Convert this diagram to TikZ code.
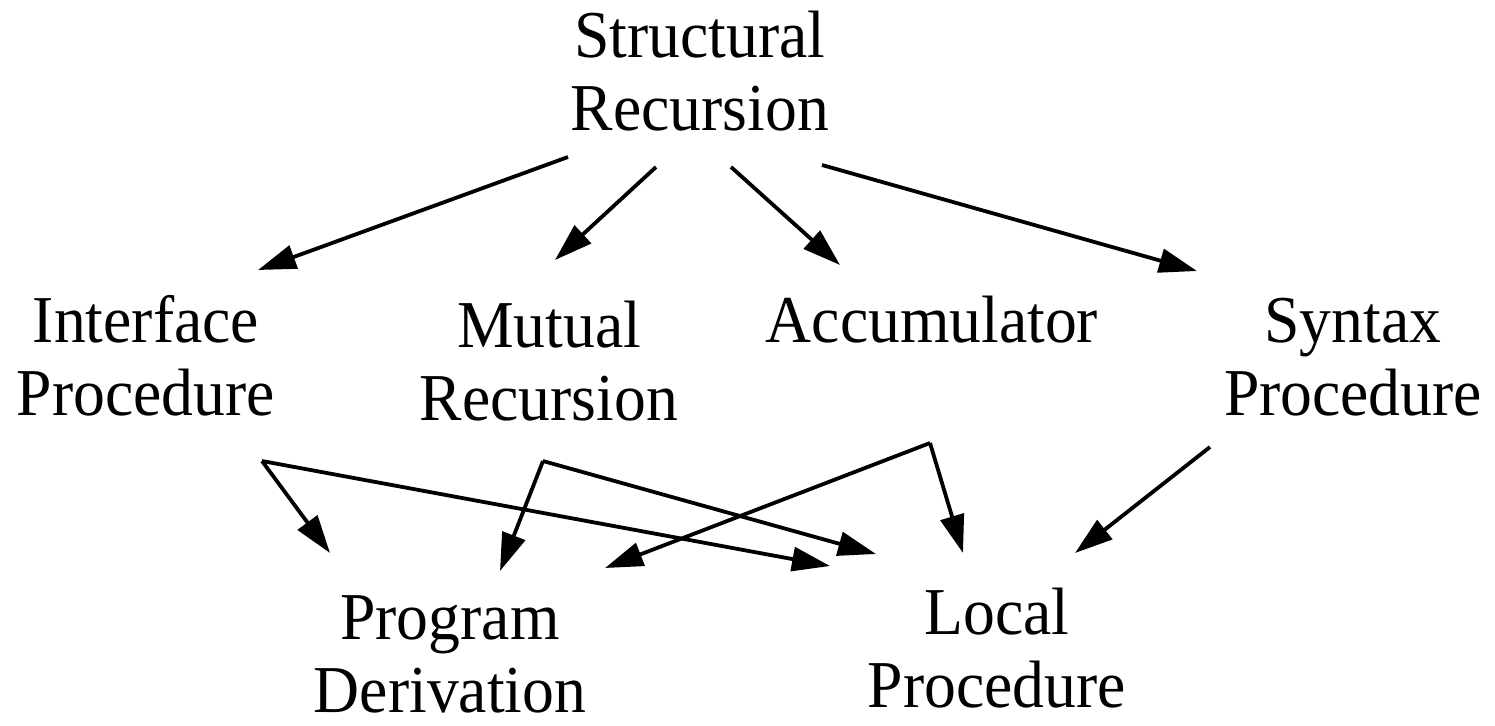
\documentclass[tikz,border=0pt]{standalone}
\usepackage{fontspec}
\setmainfont{Liberation Serif}[FakeStretch=0.95]
\usetikzlibrary{arrows.meta}
\newcommand{\labelsize}{\fontsize{33.5}{36.5}\selectfont}

\begin{document}
\begin{tikzpicture}[x=0.5pt, y=-0.5pt, >={Triangle[length=19pt,width=12pt]}]
        \useasboundingbox (0, 0) rectangle (1495, 725);
        \tikzset{topic/.style={align=center, inner sep=0pt, anchor=base, font=\labelsize},
                 link/.style={->, line width=1.9pt}}

        % topics (anchored at the baseline of the last line)
        \node[topic] (sr) at (700, 130) {Structural\\Recursion};
        \node[topic] (ip) at (146, 415) {Interface\\Procedure};
        \node[topic] (mr) at (549, 420) {Mutual\\Recursion};
        \node[topic] (acc) at (932, 342) {Accumulator};
        \node[topic] (syn) at (1353, 415) {Syntax\\Procedure};
        \node[topic] (pd) at (450, 712) {Program\\Derivation};
        \node[topic] (lp) at (997, 707) {Local\\Procedure};

        % arrow tails
        \coordinate (sr-ip) at (568, 157);
        \coordinate (sr-mr) at (656, 167);
        \coordinate (sr-acc) at (731, 167);
        \coordinate (sr-syn) at (822, 165);
        \coordinate (ip-out) at (262, 461);
        \coordinate (mr-out) at (543, 461);
        \coordinate (acc-out) at (930, 443);
        \coordinate (syn-out) at (1210, 447);

        % arrow tips
        \coordinate (ip-in) at (258, 270);
        \coordinate (mr-in) at (555, 260);
        \coordinate (acc-in) at (840, 265);
        \coordinate (syn-in) at (1197, 271);
        \coordinate (pd-ip) at (330, 553);
        \coordinate (pd-mr) at (500, 571);
        \coordinate (pd-acc) at (605, 568);
        \coordinate (lp-ip) at (830, 566);
        \coordinate (lp-mr) at (876, 554);
        \coordinate (lp-acc) at (963, 553);
        \coordinate (lp-syn) at (1075, 553);

        % structural recursion leads to
        \draw[link] (sr-ip) -- (ip-in);
        \draw[link] (sr-mr) -- (mr-in);
        \draw[link] (sr-acc) -- (acc-in);
        \draw[link] (sr-syn) -- (syn-in);

        % second row leads to
        \draw[link] (ip-out) -- (pd-ip);
        \draw[link] (ip-out) -- (lp-ip);
        \draw[link] (mr-out) -- (pd-mr);
        \draw[link] (mr-out) -- (lp-mr);
        \draw[link] (acc-out) -- (pd-acc);
        \draw[link] (acc-out) -- (lp-acc);
        \draw[link] (syn-out) -- (lp-syn);
    \end{tikzpicture}
\end{document}
